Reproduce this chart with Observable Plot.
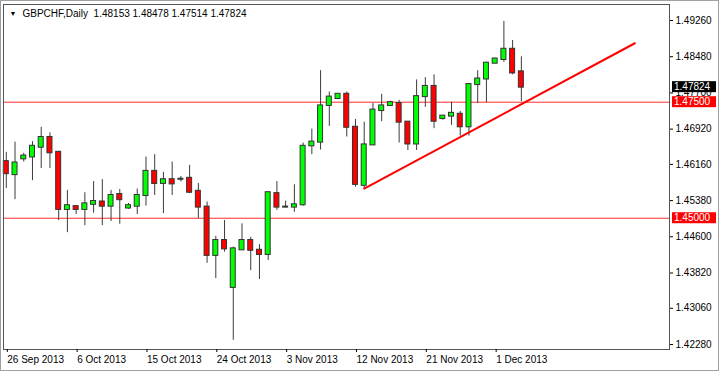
<!DOCTYPE html>
<html><head><meta charset="utf-8">
<script src="https://cdn.jsdelivr.net/npm/d3@7"></script>
<script src="https://cdn.jsdelivr.net/npm/@observablehq/plot@0.6"></script>
<style>
html,body{margin:0;padding:0;background:#fff;}
#chart svg{display:block;outline:1px solid #a0a0a0;outline-offset:-1px;}
</style></head><body><div id="chart"></div>
<script>
// Daily GBPCHF candles (MT4 style, Sunday bars included), bar index 0 = 26 Sep 2013
const opens  = [1.4622,1.4594,1.4628,1.4632,1.4653,1.4674,1.4642,1.4519,1.4525,1.4519,
                1.4530,1.4535,1.4526,1.4551,1.4522,1.4526,1.4549,1.4601,1.4575,1.4583,
                1.4584,1.4586,1.4558,1.4524,1.4420,1.4452,1.4351,1.4432,1.4452,1.4431,
                1.4422,1.4553,1.4524,1.4524,1.4529,1.4656,1.4664,1.4743,1.4758,1.4767,
                1.4696,1.4571,1.4658,1.4732,1.4743,1.4747,1.4707,1.4660,1.4762,1.4784,
                1.4715,1.4720,1.4724,1.4697,1.4788,1.4800,1.4834,1.4842,1.4864,1.48153];
const highs  = [1.4642,1.4664,1.4640,1.4665,1.4696,1.4684,1.4644,1.4560,1.4527,1.4555,
                1.4579,1.4583,1.4560,1.4562,1.4532,1.4563,1.4632,1.4637,1.4599,1.4621,
                1.4590,1.4614,1.4575,1.4535,1.4461,1.4495,1.4438,1.4488,1.4459,1.4443,
                1.4556,1.4579,1.4537,1.4572,1.4662,1.4692,1.4818,1.4772,1.4768,1.4772,
                1.4713,1.4707,1.4747,1.4767,1.4752,1.4754,1.4708,1.4798,1.4803,1.4809,
                1.4721,1.4750,1.4730,1.4790,1.4818,1.4836,1.4845,1.4924,1.4883,1.48478];
const lows   = [1.4564,1.4540,1.4621,1.4581,1.4607,1.4607,1.4495,1.4469,1.4508,1.4484,
                1.4511,1.4484,1.4493,1.4487,1.4519,1.4508,1.4526,1.4549,1.4510,1.4549,
                1.4578,1.4553,1.4499,1.4403,1.4370,1.4427,1.4237,1.4431,1.4387,1.4368,
                1.4409,1.4517,1.4522,1.4513,1.4526,1.4637,1.4647,1.4698,1.4757,1.4675,
                1.4567,1.4564,1.4657,1.4708,1.4741,1.4662,1.4646,1.4646,1.4739,1.4693,
                1.4711,1.4700,1.4677,1.4677,1.4747,1.4749,1.4833,1.4836,1.4809,1.47514];
const closes = [1.4596,1.4619,1.4634,1.4655,1.4674,1.4641,1.4519,1.4527,1.4519,1.4531,
                1.4536,1.4526,1.4549,1.4540,1.4527,1.4549,1.4601,1.4575,1.4583,1.4574,
                1.4584,1.4556,1.4524,1.4420,1.4452,1.4434,1.4434,1.4452,1.4431,1.4422,
                1.4555,1.4524,1.4524,1.4529,1.4655,1.4664,1.4742,1.4761,1.4767,1.4696,
                1.4573,1.4658,1.4733,1.4742,1.4749,1.4707,1.4660,1.4762,1.4784,1.4709,
                1.4720,1.4726,1.4697,1.4788,1.4800,1.4834,1.4843,1.4864,1.4813,1.47824];

const dateTickBars = [0, 8, 16, 24, 32, 40, 48, 56];
const dateLabels = ["26 Sep 2013","6 Oct 2013","15 Oct 2013","24 Oct 2013","3 Nov 2013","12 Nov 2013","21 Nov 2013","1 Dec 2013"];
const priceTicks = [1.4926,1.4848,1.4770,1.4692,1.4616,1.4538,1.4460,1.4382,1.4306,1.4228];
const levelLines = [1.4750, 1.4500];
const trendBars = [41, 72];
const trendPrices = [1.4564, 1.4877];
const symbolTitle = "GBPCHF,Daily";
const lastOHLC = [1.48153, 1.48478, 1.47514, 1.47824];
const priceBoxes = [
  {value: 1.47824, color: "#000000"},
  {value: 1.47500, color: "#ff0000"},
  {value: 1.45000, color: "#ff0000"}
];

const bars = opens.map((o, i) => ({i, open: o, high: highs[i], low: lows[i], close: closes[i]}));
const trend = trendBars.map((b, k) => ({bar: b, price: trendPrices[k]}));
const headerText = symbolTitle + "\u00a0\u00a0" + lastOHLC.map(v => v.toFixed(5)).join(" ");

const W = 719, H = 371, mR = 50;
const plot = Plot.plot({
  width: W, height: H,
  marginLeft: 3, marginRight: mR, marginTop: 4, marginBottom: 22,
  style: {fontFamily: "'Liberation Sans', Arial, sans-serif", fontSize: "10px", color: "#000", background: "#fff", overflow: "visible"},
  x: {domain: [-0.32, 75.97]},
  y: {domain: [1.421723, 1.496047]},
  marks: [
    Plot.ruleY(levelLines, {y: d => d, stroke: "#ff2a2a", strokeWidth: 1}),
    Plot.ruleX(bars, {x: "i", y1: "low", y2: "high", stroke: "#3c3c3c"}),
    Plot.rect(bars, {x1: "i", x2: "i", y1: "open", y2: "close",
      insetLeft: -2.5, insetRight: -2.5, insetTop: -0.5, insetBottom: -0.5,
      fill: d => d.close >= d.open ? "#00ff00" : "#ff0000", stroke: "#333"}),
    Plot.line(trend, {x: "bar", y: "price", stroke: "#ff0000", strokeWidth: 2}),
    Plot.frame({stroke: "#555"}),
    Plot.axisY({anchor: "right", ticks: priceTicks, tickFormat: d => d.toFixed(5), tickSize: 3, tickPadding: 3, label: null}),
    Plot.axisX({ticks: dateTickBars, tickFormat: d => dateLabels[dateTickBars.indexOf(d)], tickSize: 3, tickPadding: 3, textAnchor: "start", dx: 1, label: null}),
    Plot.text(["\u25bc"], {frameAnchor: "top-left", dx: 6, dy: 7, fontSize: 7, fill: "#000"}),
    Plot.text([headerText], {frameAnchor: "top-left", dx: 19, dy: 5, fill: "#000", textAnchor: "start"})
  ]
});

const ys = plot.scale("y");
const svg = d3.select(plot);
priceBoxes.forEach(b => {
  const y = ys.apply(b.value);
  const g = svg.append("g").attr("text-anchor", "start");
  g.append("rect").attr("x", W - mR + 3).attr("y", y - 5.5).attr("width", 44).attr("height", 11).attr("fill", b.color);
  g.append("text").attr("x", W - mR + 5).attr("y", y).attr("dy", "0.35em").attr("text-anchor", "start").attr("fill", "#fff").text(b.value.toFixed(5));
});

document.getElementById("chart").appendChild(plot);
</script></body></html>
